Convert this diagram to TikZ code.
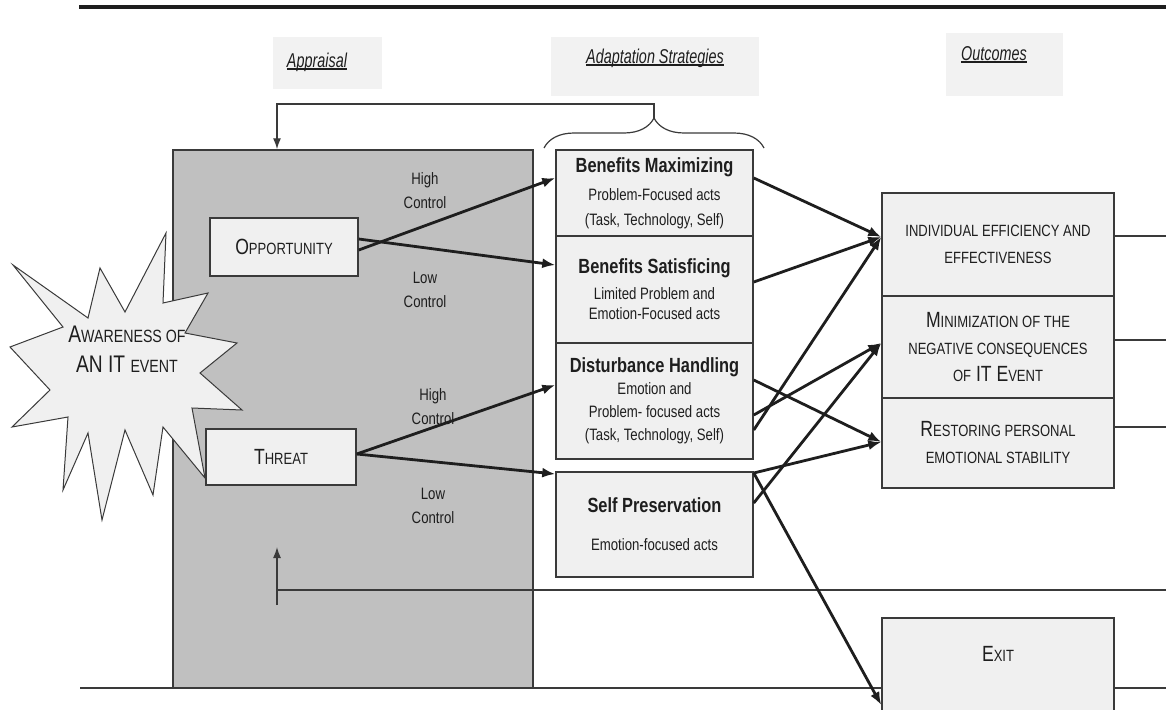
\documentclass[tikz,border=0pt]{standalone}
\usepackage{fontspec}
\setmainfont{Liberation Sans}
\newfontfamily\narrowsans{Liberation Sans}[FakeStretch=0.8]
\newfontfamily\headsans{Liberation Sans}[FakeStretch=0.72]
\usepackage{graphicx}
\usetikzlibrary{arrows.meta,decorations.pathreplacing}

\definecolor{ink}{HTML}{1E1E1E}
\definecolor{boxline}{HTML}{3A3A3A}
\definecolor{boxfill}{HTML}{F0F0F0}
\definecolor{areagray}{HTML}{C0C0C0}
\definecolor{hdgray}{HTML}{F2F2F2}

% fake small capitals for the condensed sans
\newcommand{\smc}[1]{\scalebox{0.74}{\MakeUppercase{#1}}}
\newcommand{\hdul}[1]{\setbox0=\hbox{#1}\rlap{\rule[-3pt]{\wd0}{2.2pt}}\box0}
\newcommand{\capsfont}{\narrowsans\fontsize{22}{27}\selectfont}
\newcommand{\titlefont}{\narrowsans\bfseries\fontsize{20.5}{24}\selectfont}
\newcommand{\headfont}{\headsans\itshape\fontsize{20}{24}\selectfont}

\begin{document}
\begin{tikzpicture}[x=1pt,y=-1pt,>={Latex[length=13pt,width=10pt]},
    stratbox/.style={draw=boxline,fill=boxfill,line width=1.5pt,minimum width=197pt,align=center,inner sep=0pt,text=ink},
    outbox/.style={draw=boxline,fill=boxfill,line width=1.5pt,minimum width=232pt,align=center,inner sep=0pt,text=ink,font=\capsfont},
    apprbox/.style={draw=boxline,fill=boxfill,line width=1.5pt,inner sep=0pt,text=ink,font=\capsfont},
    ctrl/.style={align=center,text=ink,font={\narrowsans\fontsize{16.5}{24}\selectfont}},
    headlbl/.style={text=ink,font=\headfont},
    flow/.style={->,line width=2.8pt,draw=ink},
    back/.style={line width=1.4pt,draw=boxline},
    backtip/.style={-{Latex[length=11pt,width=8pt]},line width=1.4pt,draw=boxline}]
    \useasboundingbox (0,0) rectangle (1166,709);
    \clip (0,0) rectangle (1166,709);

    % top rule and headings
    \draw[line width=4pt,draw=ink] (79,7) -- (1166,7);
    \fill[hdgray] (273,37) rectangle (382,89);
    \fill[hdgray] (551,37) rectangle (759,96);
    \fill[hdgray] (946,33) rectangle (1063,96);
    \node[headlbl] (happr) at (317,62) {\hdul{Appraisal}};
    \node[headlbl] (hadapt) at (655,58) {\hdul{Adaptation Strategies}};
    \node[headlbl] (hout) at (994,55) {\hdul{Outcomes}};

    % appraisal area
    \node[draw=boxline,fill=areagray,line width=1.5pt,minimum width=360pt,minimum height=538pt,inner sep=0pt] (area) at (353,419) {};

    % awareness star
    \draw[boxline,fill=boxfill,line width=1pt] (166,233) -- (163,303) -- (208,293) -- (185,333)
        -- (237,343) -- (200,373) -- (242,410) -- (192,408) -- (205,478) -- (163,427)
        -- (153,495) -- (125,430) -- (102,520) -- (88,433) -- (63,490) -- (68,417)
        -- (12,427) -- (50,390) -- (10,347) -- (63,327) -- (13,265) -- (88,318)
        -- (100,268) -- (125,312) -- cycle;
    \node[text=ink,font={\narrowsans\fontsize{24}{30}\selectfont},align=center] (aware) at (127,349) {A\smc{wareness of}\\AN IT \smc{event}};

    \node[apprbox,minimum width=148pt,minimum height=58pt] (opp) at (284,247) {O\smc{pportunity}};
    \node[apprbox,minimum width=150pt,minimum height=56pt] (thr) at (281,457) {T\smc{hreat}};
    \node[ctrl] (hc1) at (425,191) {High\\Control};
    \node[ctrl] (lc1) at (425,290) {Low\\Control};
    \node[ctrl] (hc2) at (433,407) {High\\Control};
    \node[ctrl] (lc2) at (433,506) {Low\\Control};

    % strategies
    \node[stratbox,minimum height=86pt,font={\narrowsans\fontsize{16.5}{25}\selectfont}] (bm) at (654.5,193)
        {{\titlefont Benefits Maximizing}\\[3pt]Problem-Focused acts\\(Task, Technology, Self)};
    \node[stratbox,minimum height=107pt,font={\narrowsans\fontsize{16.5}{20}\selectfont}] (bs) at (654.5,289.5)
        {{\titlefont Benefits Satisficing}\\[6pt]Limited Problem and\\Emotion-Focused acts};
    \node[stratbox,minimum height=116pt,font={\narrowsans\fontsize{16.5}{23}\selectfont}] (dh) at (654.5,401)
        {{\titlefont Disturbance Handling}\\[-1pt]Emotion and\\Problem- focused acts\\(Task, Technology, Self)};
    \node[stratbox,minimum height=105pt,font={\narrowsans\fontsize{16.5}{20}\selectfont}] (sp) at (654.5,524.5)
        {{\titlefont Self Preservation}\\[18pt]Emotion-focused acts};

    % outcomes
    \node[outbox,minimum height=103pt] (ie) at (998,244.5) {\smc{individual efficiency and}\\\smc{effectiveness}};
    \node[outbox,minimum height=102pt] (minim) at (998,347) {M\smc{inimization of the}\\\smc{negative consequences}\\\smc{of} IT E\smc{vent}};
    \node[outbox,minimum height=90pt] (rest) at (998,443) {R\smc{estoring personal}\\\smc{emotional stability}};

    \coordinate (rA) at (1166,236);
    \coordinate (rB) at (1166,340);
    \coordinate (rC) at (1166,427);
    \draw[back] (ie.east |- rA) -- (rA);
    \draw[back] (minim.east |- rB) -- (rB);
    \draw[back] (rest.east |- rC) -- (rC);

    % bottom rule and exit
    \draw[line width=2pt,draw=boxline] (80,688) -- (1166,688);
    \node[outbox,anchor=north,text height=44pt,text depth=100pt] (exit) at (998,617) {E\smc{xit}};

    % feedback loops
    \coordinate (fbR) at (1166,590);
    \coordinate (fbfoot) at (277,605);
    \coordinate (fbtip) at (277,547);
    \draw[back] (fbR) -- (fbR -| fbfoot);
    \draw[backtip] (fbfoot) -- (fbtip);
    \coordinate (bracetip) at (654,118);
    \coordinate (loopup) at (654,104);
    \coordinate (areatop) at (area.north -| fbtip);
    \draw[backtip] (bracetip) -- (loopup) -| (areatop);
    \draw[boxline,line width=1.2pt,decorate,decoration={brace,amplitude=30pt}] (544,148) -- (764,148);

    % appraisal to strategies
    \draw[flow] (opp.east |- 0,250) -- (bm.west |- 0,178);
    \draw[flow] (opp.east |- 0,239) -- (bs.west |- 0,265);
    \draw[flow] (thr.east |- 0,454) -- (dh.west |- 0,385);
    \draw[flow] (thr.east |- 0,454) -- (sp.west |- 0,474);

    % strategies to outcomes
    \draw[flow] (bm.east |- 0,178) -- (ie.west |- 0,237);
    \draw[flow] (bs.east |- 0,282) -- (ie.west |- 0,237);
    \draw[flow] (dh.east |- 0,380) -- (rest.west |- 0,442);
    \draw[flow] (dh.east |- 0,415) -- (minim.west |- 0,343);
    \draw[flow] (dh.east |- 0,430) -- (ie.west |- 0,237);
    \draw[flow] (sp.east |- 0,473) -- (rest.west |- 0,442);
    \draw[flow] (sp.east |- 0,503) -- (minim.west |- 0,343);
    \draw[flow] (sp.east |- 0,473) -- (exit.west |- 0,705);
\end{tikzpicture}
\end{document}
